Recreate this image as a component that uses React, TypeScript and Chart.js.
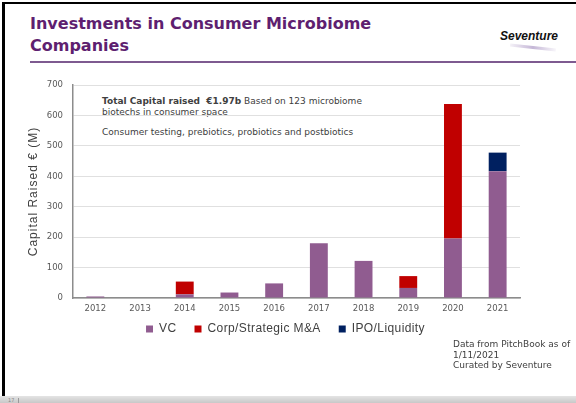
import React, { useEffect, useRef } from "react";
import { Chart, registerables } from "chart.js";

Chart.register(...registerables);

const years = ["2012", "2013", "2014", "2015", "2016", "2017", "2018", "2019", "2020", "2021"];
const vcValues = [5, 0, 12, 18, 48, 180, 122, 33, 196, 417];
const corpValues = [0, 0, 42, 0, 0, 0, 0, 39, 442, 0];
const ipoValues = [0, 0, 0, 0, 0, 0, 0, 0, 0, 61];
const seriesNames = ["VC", "Corp/Strategic M&A", "IPO/Liquidity"];
const seriesColors = ["#905C90", "#C00000", "#002060"];
const yMax = 700;
const yStep = 100;

const LEGEND_DX = -11;
const LEGEND_DY = -13;

const spacingPlugin = {
  id: "spacingPatch",
  afterInit(chart: any) {
    const lg = chart.legend;
    if (lg && !lg.__patched) {
      const f = lg.fit;
      const d = lg.draw;
      lg.fit = function (...a: any[]) {
        const c = this.ctx;
        c.save();
        c.letterSpacing = "0.4px";
        const r = f.apply(this, a);
        c.restore();
        this.height = 30;
        return r;
      };
      lg.draw = function (...a: any[]) {
        const c = this.ctx;
        c.save();
        c.letterSpacing = "0.4px";
        c.translate(LEGEND_DX, LEGEND_DY);
        const r = d.apply(this, a);
        c.restore();
        return r;
      };
      lg.__patched = true;
    }
  },
  beforeDraw(chart: any) {
    const y = chart.scales.y;
    if (y && !y.__patched) {
      const t = y.drawTitle;
      y.drawTitle = function (...a: any[]) {
        const c = this.ctx;
        c.save();
        c.letterSpacing = "1px";
        const r = t.apply(this, a);
        c.restore();
        return r;
      };
      y.__patched = true;
    }
  },
};

function BarChart() {
  const ref = useRef<HTMLCanvasElement | null>(null);
  useEffect(() => {
    if (!ref.current) return;
    const chart = new Chart(ref.current, {
      type: "bar",
      data: {
        labels: years,
        datasets: [
          { label: seriesNames[0], data: vcValues, backgroundColor: seriesColors[0], borderWidth: 0 },
          { label: seriesNames[1], data: corpValues, backgroundColor: seriesColors[1], borderWidth: 0 },
          { label: seriesNames[2], data: ipoValues, backgroundColor: seriesColors[2], borderWidth: 0 },
        ],
      },
      options: {
        animation: false,
        responsive: false,
        maintainAspectRatio: false,
        layout: { padding: { top: 10, left: 22, right: 56, bottom: 0 } },
        datasets: { bar: { barPercentage: 0.4, categoryPercentage: 1 } },
        plugins: {
          tooltip: { enabled: false },
          legend: {
            position: "bottom",
            fullSize: false,
            labels: {
              boxWidth: 7,
              boxHeight: 7,
              padding: 18,
              color: "#404040",
              font: { family: "'Liberation Sans', Arial, sans-serif", size: 12 },
            },
          },
        },
        scales: {
          x: {
            stacked: true,
            grid: { display: false, drawTicks: false },
            border: { display: true, color: "#8c8c8c", width: 1.5 },
            ticks: {
              padding: 6,
              color: "#595959",
              font: { family: "'DejaVu Sans', Verdana, sans-serif", size: 8.5 },
              maxRotation: 0,
            },
            afterFit(scale: any) {
              scale.height = 20;
            },
          },
          y: {
            stacked: true,
            min: 0,
            max: yMax,
            grid: { color: "#e0e0e0", lineWidth: 1, drawTicks: false },
            border: { display: true, color: "#8c8c8c", width: 1.5 },
            ticks: {
              stepSize: yStep,
              padding: 10,
              color: "#595959",
              font: { family: "'DejaVu Sans', Verdana, sans-serif", size: 8.5 },
            },
            title: {
              display: true,
              text: "Capital Raised € (M)",
              color: "#404040",
              font: { family: "'Liberation Sans', Arial, sans-serif", size: 12 },
            },
            afterFit(scale: any) {
              scale.width = 51;
            },
          },
        },
      },
      plugins: [spacingPlugin as any],
    } as any);
    return () => chart.destroy();
  }, []);
  return (
    <canvas
      ref={ref}
      width={576}
      height={278}
      style={{ position: "absolute", left: 0, top: 70, width: 576, height: 278 }}
    />
  );
}

export default function App() {
  const small = { fontFamily: "'DejaVu Sans', Verdana, sans-serif", fontSize: 9, color: "#404040", lineHeight: "11px" } as React.CSSProperties;
  return (
    <div style={{ position: "absolute", left: 0, top: 0, width: 576, height: 403, background: "#fff", overflow: "hidden" }}>
      {/* slide borders */}
      <div style={{ position: "absolute", left: 2, top: 2, width: 574, height: 2, background: "#000" }} />
      <div style={{ position: "absolute", left: 2, top: 2, width: 3, height: 394, background: "#000" }} />
      <div style={{ position: "absolute", left: 0, top: 396, width: 576, height: 7, background: "linear-gradient(#e4e4e4, #c8c8c8)" }} />
      <div style={{ position: "absolute", left: 8, top: 397, fontFamily: "'DejaVu Sans', sans-serif", fontSize: 5, color: "#888" }}>17</div>
      <div style={{ position: "absolute", left: 18, top: 398, width: 1, height: 5, background: "#999" }} />

      {/* title */}
      <div
        style={{
          position: "absolute",
          left: 30,
          top: 13,
          fontFamily: "'DejaVu Sans', Verdana, sans-serif",
          fontWeight: "bold",
          fontSize: 16,
          lineHeight: "22px",
          color: "#5E1F70",
          whiteSpace: "nowrap",
        }}
      >
        Investments in Consumer Microbiome
        <br />
        Companies
      </div>

      {/* logo */}
      <div
        style={{
          position: "absolute",
          left: 500,
          top: 29,
          fontFamily: "'Liberation Sans', Arial, sans-serif",
          fontWeight: "bold",
          fontStyle: "italic",
          fontSize: 12,
          color: "#111",
        }}
      >
        Seventure
      </div>
      <div
        style={{
          position: "absolute",
          left: 510,
          top: 46,
          width: 46,
          height: 3,
          background: "linear-gradient(90deg, rgba(200,185,215,0.2), rgba(190,175,210,0.9), rgba(220,210,230,0.2))",
          transform: "rotate(6deg)",
        }}
      />

      {/* purple rule */}
      <div style={{ position: "absolute", left: 30, top: 61, width: 546, height: 2, background: "#7E5A90" }} />

      {/* annotation */}
      <div style={{ ...small, position: "absolute", left: 102, top: 96, whiteSpace: "nowrap" }}>
        <b>Total Capital raised&nbsp; €1.97b</b> Based on 123 microbiome
        <br />
        biotechs in consumer space
      </div>
      <div style={{ ...small, position: "absolute", left: 102, top: 127, whiteSpace: "nowrap" }}>
        Consumer testing, prebiotics, probiotics and postbiotics
      </div>

      <BarChart />

      {/* footnote */}
      <div style={{ ...small, position: "absolute", left: 453, top: 339, whiteSpace: "nowrap", lineHeight: "10.5px" }}>
        Data from PitchBook as of
        <br />
        1/11/2021
        <br />
        Curated by Seventure
      </div>
    </div>
  );
}
